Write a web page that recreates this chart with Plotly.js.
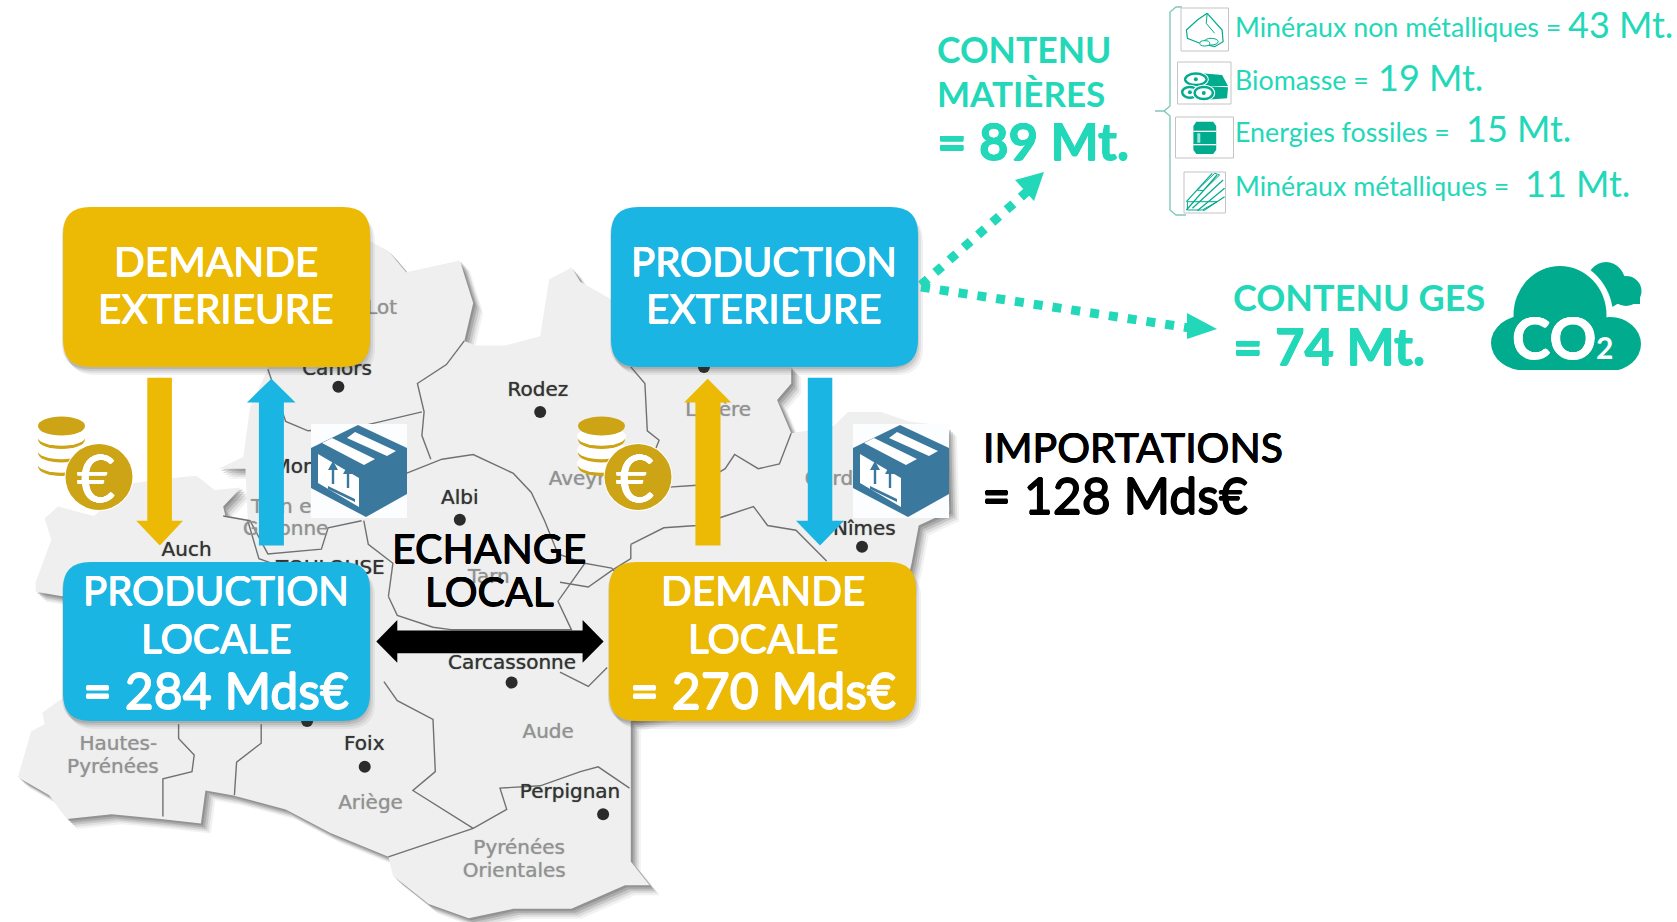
<!DOCTYPE html>
<html><head><meta charset="utf-8">
<script src="https://cdn.plot.ly/plotly-3.0.1.min.js"></script>
<style>html,body{margin:0;padding:0;background:#fff}#c{width:1677px;height:922px}</style>
</head><body><div id="c"></div>
<script>
// ---- content ----
const matterLabels = ["Minéraux non métalliques =", "Biomasse =", "Energies fossiles =", "Minéraux métalliques ="];
const matterValues = [43, 19, 15, 11];
const matterTotal = 89;
const gesTotal = 74;
const productionLocale = 284;
const demandeLocale = 270;
const importations = 128;
const darkCities = ["Rodez","Albi","Auch","Carcassonne","Foix","Perpignan","Nîmes","Cahors","Mon","TOULOUSE"];
const greyAreas = ["Lot","Aveyron","Tarn","Aude","Hautes-","Pyrénées","Ariège","Pyrénées","Orientales","Lozère","Gard","Tarn e","Garonne"];

const YEL="#ECB905", BLU="#1AB5E2", TEAL="#22D8B8", DTEAL="#00AB8E", COIN="#CDA416", PK="#3A789E", LINE="#6f7173";
const z1=(x,y)=>[x/2.24,180+y/2.113], z2=(x,y)=>[560+x/2.119,180+y/2.113], z3=(x,y)=>[900+x/2.018,y/3];
const conv=(f,a)=>a.map(p=>f(p[0],p[1]));
const shapes=[], ann=[];
const poly=(pts,fill,layer,extra)=>shapes.push(Object.assign({type:'path',xref:'x',yref:'y',layer:layer||'above',
  path:'M'+pts.map(p=>p[0].toFixed(1)+','+p[1].toFixed(1)).join('L')+'Z',fillcolor:fill,line:{width:0}},extra||{}));
const pline=(pts,color,w,layer)=>shapes.push({type:'path',xref:'x',yref:'y',layer:layer||'below',
  path:'M'+pts.map(p=>p[0].toFixed(1)+','+p[1].toFixed(1)).join('L'),line:{color:color,width:w}});
const ell=(cx,cy,rx,ry,fill,extra)=>shapes.push(Object.assign({type:'circle',xref:'x',yref:'y',layer:'above',
  x0:cx-rx,x1:cx+rx,y0:cy-ry,y1:cy+ry,fillcolor:fill,line:{width:0}},extra||{}));
const rect=(x0,y0,x1,y1,fill,extra)=>shapes.push(Object.assign({type:'rect',xref:'x',yref:'y',layer:'above',
  x0,x1,y0,y1,fillcolor:fill,line:{width:0}},extra||{}));
const rrPath=(x0,y0,x1,y1,r)=>`M${x0+r},${y0}L${x1-r},${y0}Q${x1},${y0} ${x1},${y0+r}L${x1},${y1-r}Q${x1},${y1} ${x1-r},${y1}L${x0+r},${y1}Q${x0},${y1} ${x0},${y1-r}L${x0},${y0+r}Q${x0},${y0} ${x0+r},${y0}Z`;
const stroke=(c,w)=>`${w}px 0 0 ${c}, -${w}px 0 0 ${c}, 0 ${w}px 0 ${c}, 0 -${w}px 0 ${c}`;
const txt=(x,y,text,size,color,o)=>{o=o||{};
  ann.push({xref:'x',yref:'y',x,y,text,showarrow:false,xanchor:o.xanchor||'center',yanchor:'middle',borderpad:0,
  font:{family:o.family||'Lato, sans-serif',size,color,weight:o.weight||400,shadow:o.w?stroke(color,o.w):'none'}});};

// ---- map ----
const outer=[...conv(z1,[[40,1262],[70,1165],[100,1150],[95,1125],[140,1095],[142,880],[80,870],[80,850],[115,760],[100,715],[130,690],[210,710],[300,640],[380,630],[440,625],[480,655],[540,650],[500,690],[505,710],[555,720],[550,610],[490,610],[545,585],[560,480],[600,400],[620,300],[830,130],[870,150],[910,195],[1030,170],[1060,260],[1040,340],[1065,350],[1130,350],[1210,330],[1230,210],[1280,185],[1300,215],[1365,250],[1400,300]]),
 ...conv(z2,[[300,300],[490,395],[490,430],[460,465],[490,535],[580,520],[610,490],[680,490],[740,510],[820,520],[825,700],[760,730],[745,810],[700,1000],[150,1143],[150,1180],[150,1440],[190,1490]]),
 ...conv(z1,[[1400,1490],[1280,1540],[1150,1540],[1050,1560],[960,1530],[880,1470],[870,1430],[740,1380],[640,1330],[520,1300],[460,1290],[450,1360],[360,1350],[250,1340],[150,1350],[110,1300]])];
[[10,10,.08],[8,8,.12],[6,6,.18],[4,4,.25],[2,2,.3]].forEach(s=>poly(outer.map(p=>[p[0]+s[0],p[1]+s[1]]),`rgba(90,90,90,${s[2]})`,'below'));
poly(outer,'#EFEFEF','below');
const borders=[
 conv(z1,[[400,1150],[400,1180],[435,1215],[430,1250],[365,1265],[365,1345]]),
 conv(z1,[[585,1150],[585,1190],[530,1230],[525,1300]]),
 conv(z1,[[860,1060],[890,1100],[970,1140],[975,1250],[925,1290],[1060,1370]]),
 conv(z1,[[870,1430],[1060,1370],[1135,1330],[1120,1285],[1210,1280],[1300,1250],[1340,1240],[1410,1285]]),
 conv(z1,[[870,880],[890,920],[970,945],[1010,950],[1280,950],[1250,890],[1310,810],[1370,820],[1390,840]]),
 conv(z1,[[910,620],[990,590],[1060,580],[1150,620],[1190,660],[1220,720],[1250,790],[1310,810]]),
 conv(z1,[[815,720],[825,770],[880,810],[870,880]]),
 conv(z1,[[500,710],[560,720],[600,790],[720,780],[735,735],[810,720]]),
 conv(z1,[[1040,340],[1000,390],[935,430],[950,490],[945,540],[965,590]]),
 conv(z1,[[600,400],[640,510],[690,530],[810,520],[945,490]]),
 conv(z1,[[555,720],[580,800],[610,810]]),
 conv(z2,[[150,395],[180,430],[185,530],[210,550],[190,600],[215,650]]),
 conv(z2,[[490,535],[465,600],[420,610],[370,580],[350,610],[290,645],[215,650]]),
 conv(z2,[[150,770],[220,735],[290,730],[350,710],[410,690],[440,730],[500,740],[565,805]]),
 conv(z2,[[150,770],[150,800],[110,825],[60,860],[0,850]]),
 conv(z2,[[0,1040],[60,1070],[100,1030]])
];
borders.forEach(b=>pline(b,LINE,1.4));

const darkPos=[z1(1205,445),z1(1030,675),z1(418,783),z1(1147,1023),z1(816,1193),z1(1277,1295),z2(645,740),z1(755,401),z1(660,608),z1(740,823)];
const greyPos=[z1(855,273),z1(1320,633),z1(1095,841),z1(1228,1168),z1(265,1193),z1(253,1243),z1(830,1318),z1(1163,1413),z1(1152,1463),z2(335,488),z2(570,633),z1(630,693),z1(640,740)];
const dots=[z1(1210,490),z1(758,437),z1(1030,718),z1(1146,1062),z1(817,1240),z1(1351,1340),z2(640,775),z2(305,395),z1(688,1143)];
const traces=[
 {type:'scatter',mode:'markers',x:dots.map(p=>p[0]),y:dots.map(p=>p[1]),marker:{size:12,color:'#2b2b2b'},hoverinfo:'skip'},
 {type:'scatter',mode:'text',x:darkPos.map(p=>p[0]),y:darkPos.map(p=>p[1]),text:darkCities,textposition:'middle center',
  textfont:{family:'DejaVu Sans',size:20,color:'#333333',shadow:'0 0 1px rgba(50,50,50,.8)'},hoverinfo:'skip'},
 {type:'scatter',mode:'text',x:greyPos.map(p=>p[0]),y:greyPos.map(p=>p[1]),text:greyAreas,textposition:'middle center',
  textfont:{family:'DejaVu Sans',size:20,color:'#929292',shadow:'0 0 1px rgba(140,140,140,.8)'},hoverinfo:'skip'}
];

// ---- boxes ----
const box=(x0,y0,x1,y1,fill)=>{
 [[8,10,.07],[6,8,.09],[4,6,.12],[2,4,.14]].forEach(s=>shapes.push({type:'path',xref:'x',yref:'y',layer:'above',
   path:rrPath(x0+s[0]-3,y0+s[1]-2,x1+s[0]-3,y1+s[1]-2,27),fillcolor:`rgba(60,60,60,${s[2]})`,line:{width:0}}));
 shapes.push({type:'path',xref:'x',yref:'y',layer:'above',path:rrPath(x0,y0,x1,y1,27),fillcolor:fill,line:{width:0}});
};
box(63,207,370,367,YEL); box(611,207,918,367,BLU); box(63,562,370,721,BLU); box(609,562,916,721,YEL);
const WH='#ffffff', MED={w:0.5}, SEMI={w:0.8};
txt(216,260.5,'DEMANDE',40.5,WH,MED); txt(216,307.5,'EXTERIEURE',40.5,WH,MED);
txt(764,260.5,'PRODUCTION',40.2,WH,MED); txt(764,307.5,'EXTERIEURE',40.5,WH,MED);
txt(216,589.5,'PRODUCTION',40.2,WH,MED); txt(216,637,'LOCALE',40.5,WH,MED);
txt(216,690,'= '+productionLocale+' Mds€',50,WH,SEMI);
txt(763,589.5,'DEMANDE',40.5,WH,MED); txt(763,637,'LOCALE',40.5,WH,MED);
txt(763,690,'= '+demandeLocale+' Mds€',50,WH,SEMI);

// ---- vertical & horizontal arrows ----
const av=(f,fill,xa,xb,xha,xhb,xt,ytail,ybase,ytip)=>poly(conv(f,[[xa,ytail],[xb,ytail],[xb,ybase],[xhb,ybase],[xt,ytip],[xha,ybase],[xa,ybase]]),fill);
av(z1,YEL,330,385,305,410,358,418,720,772);
av(z1,BLU,580,636,553,662,608,772,470,420);
av(z2,YEL,287,340,263,363,313,772,470,420);
av(z2,BLU,525,577,500,602,551,418,720,772);
poly(conv(z1,[[843,975],[890,930],[890,952],[1305,952],[1305,930],[1352,975],[1305,1020],[1305,1000],[890,1000],[890,1020]]),'#000000');
txt(489,547.5,'ECHANGE',41,'#000',MED);
txt(489,590.5,'LOCAL',41,'#000',MED);

// ---- coins ----
const coin=(sx,cx)=>{
 [0,1,2].forEach(i=>{
  const y=426+(3-i)*13.5;
  ell(sx,y,23.5,9.5,COIN);
  ell(sx,y-3.2,24.5,9.5,WH);
 });
 ell(sx,426,23.5,9.5,COIN);
 ell(cx,477,34.5,34,WH);
 ell(cx,477,33.5,33,COIN);
 txt(cx-3,476,'€',66,WH,{w:0.4});
};
coin(61.5,99); coin(601.5,638);

// ---- packages ----
const pkg=(ox,oy)=>{
 const m=a=>a.map(p=>[ox+p[0],oy+p[1]]);
 rect(ox,oy,ox+96,oy+94,'#FBFDFE');
 poly(m([[47,1],[96,24],[96,70],[55,93],[0,64],[0,24]]),PK);
 poly(m([[7,30],[48,54],[48,83],[7,59]]),WH);
 poly(m([[36,14],[44,8],[85,27],[76,32]]),WH);
 poly(m([[11,19],[21,14],[64,35],[53,41]]),WH);
 [[22,46],[37,50]].forEach(a=>{
  poly(m([[a[0]-1.2,a[1]],[a[0]-1.2,a[1]+14],[a[0]+1.2,a[1]+14],[a[0]+1.2,a[1]],[a[0]+5,a[1]],[a[0],a[1]-9],[a[0]-5,a[1]]]),PK);
 });
 poly(m([[17,65],[44,78],[44,75],[17,62]]),PK);
};
pkg(311,424); pkg(853,424);
txt(982,446.5,'IMPORTATIONS',41,'#000',Object.assign({xanchor:'left'},MED));
txt(981,494.5,'= '+importations+' Mds€',50,'#000',Object.assign({xanchor:'left'},SEMI));

// ---- dotted teal arrows ----
const dot=(p0,p1)=>shapes.push({type:'line',xref:'x',yref:'y',layer:'above',x0:p0[0],y0:p0[1],x1:p1[0],y1:p1[1],
  line:{color:TEAL,width:9,dash:'9px,10px'}});
dot([921,285],[1029,190]); dot([921,287],[1190,328]);
poly([[1044,172],[1015,180],[1034,201]],TEAL);
poly([[1217,329],[1187,313],[1187,339]],TEAL);

const B={xanchor:'left',weight:700};
const B2={xanchor:'left',weight:700,w:0.5};
txt(936,49.5,'CONTENU',35.5,TEAL,B);
txt(936,92.5,'MATIÈRES',35,TEAL,B);
txt(936,140,'= '+matterTotal+' Mt.',51,TEAL,B2);
txt(1232,296.5,'CONTENU GES',36,TEAL,B);
txt(1232,345,'= '+gesTotal+' Mt.',51,TEAL,B2);

// ---- bracket & list ----
pline([[1182,7],[1176,7],[1170,12],[1170,106],[1164,111],[1155,111],[1164,111],[1170,116],[1170,210],[1176,215],[1186,215]],'#7FC9BA',1.4,'above');
const listY=[27,80,132,186], valY=[24,77,128,183], valX=[1567,1377,1465,1524];
matterLabels.forEach((l,i)=>{
 txt(1234,listY[i],l,26.8,TEAL,{xanchor:'left'});
 txt(valX[i],valY[i],matterValues[i]+' Mt.',36,TEAL,{xanchor:'left'});
});
[[1181,8,1228.5,51],[1177.5,62,1231,104],[1175.5,117,1233.5,158],[1184,172,1225.5,213]].forEach(b=>
  rect(b[0],b[1],b[2],b[3],WH,{line:{color:'#c4c4c4',width:1}}));
// rock
pline(conv(z3,[[620,40],[650,90],[652,125],[635,140],[605,130],[580,115],[578,90],[600,60],[620,40]]),DTEAL,1.2,'above');
pline(conv(z3,[[620,40],[618,70],[635,100]]),DTEAL,1,'above');
[[628,125,14,10],[615,130,10,8]].forEach(c=>{const p=z3(c[0],c[1]);ell(p[0],p[1],c[2]/2,c[3]/3,WH,{line:{color:DTEAL,width:1}});});
// logs
poly(conv(z3,[[597,218],[650,225],[662,258],[610,258]]),DTEAL);
poly(conv(z3,[[612,258],[662,262],[660,295],[612,300]]),DTEAL);
[[597,238,24,21],[585,277,18,20],[613,279,21,22]].forEach(c=>{const p=z3(c[0],c[1]);
 ell(p[0],p[1],c[2]/2.018+1,c[3]/3+1,WH);ell(p[0],p[1],c[2]/2.018,c[3]/3,DTEAL);ell(p[0],p[1],c[2]/2.018-2.5,c[3]/3-2.5,WH);ell(p[0],p[1],2,2,DTEAL);});
// barrel
poly(conv(z3,[[598,365],[632,365],[638,378],[638,450],[632,462],[598,462],[592,450],[592,378]]),DTEAL);
poly(conv(z3,[[592,392],[638,392],[638,396],[592,396]]),WH);
poly(conv(z3,[[592,432],[638,432],[638,436],[592,436]]),WH);
poly(conv(z3,[[600,400],[606,400],[606,428],[600,428]]),'#9fe6d8');
// beams
[[[578,630],[640,525]],[[590,625],[652,540]],[[600,632],[655,565]],[[612,632],[655,590]],[[578,605],[630,520]]].forEach(l=>pline(conv(z3,l),DTEAL,1.2,'above'));
pline(conv(z3,[[580,605],[640,605],[610,630],[580,630],[580,605]]),DTEAL,1,'above');
pline(conv(z3,[[600,570],[635,520],[645,525],[612,572],[600,570]]),DTEAL,1,'above');

// ---- CO2 cloud ----
ell(1606,285,20,23,DTEAL); ell(1626,291,15.5,15,DTEAL); rect(1600,290,1640,304,DTEAL);
ell(1560,316,53,56,WH); ell(1610,344,37,33,WH);
ell(1560,315,46.5,49,DTEAL); ell(1526,343,35,28,DTEAL); ell(1610,344,31,27,DTEAL);
rect(1526,320,1612,371,DTEAL);
rect(1488,370,1645,380,WH);
txt(1554,336,'CO',58,WH,{weight:700,w:0.5});
txt(1604,347,'2',30,WH,{weight:700});

Plotly.newPlot('c',traces,{
 width:1677,height:922,margin:{l:0,r:0,t:0,b:0,pad:0},paper_bgcolor:'#fff',plot_bgcolor:'#fff',showlegend:false,
 xaxis:{range:[0,1677],visible:false,fixedrange:true},
 yaxis:{range:[922,0],visible:false,fixedrange:true},
 shapes:shapes,annotations:ann
},{displayModeBar:false,staticPlot:true});
</script></body></html>
